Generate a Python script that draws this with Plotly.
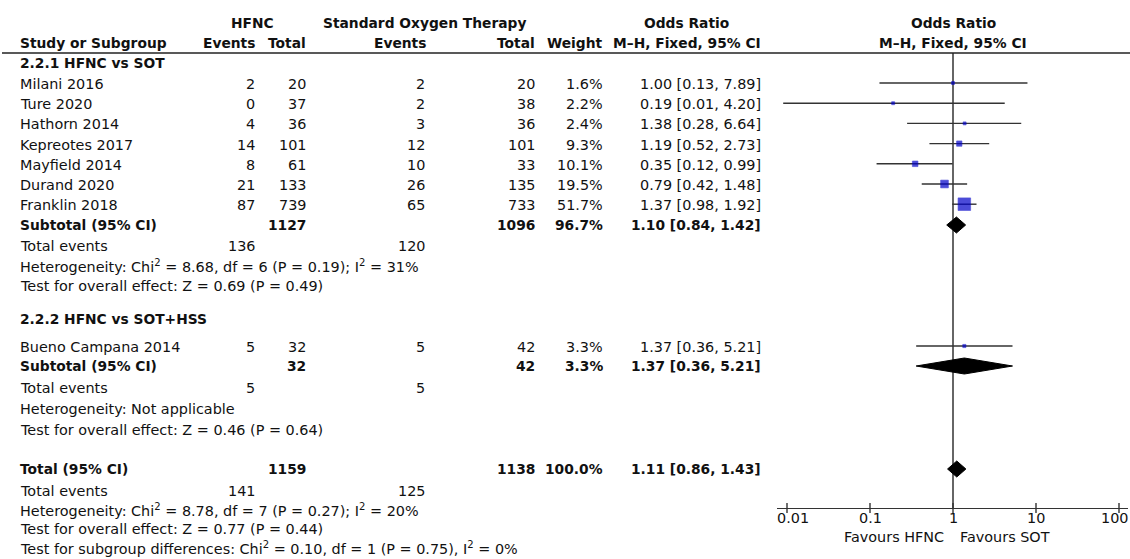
import plotly.graph_objects as go
import math

# ---------------- data ----------------
studies_g1 = ["Milani 2016", "Ture 2020", "Hathorn 2014", "Kepreotes 2017",
              "Mayfield 2014", "Durand 2020", "Franklin 2018"]
hfnc_events_g1 = [2, 0, 4, 14, 8, 21, 87]
hfnc_total_g1 = [20, 37, 36, 101, 61, 133, 739]
sot_events_g1 = [2, 2, 3, 12, 10, 26, 65]
sot_total_g1 = [20, 38, 36, 101, 33, 135, 733]
weight_g1 = [1.6, 2.2, 2.4, 9.3, 10.1, 19.5, 51.7]
or_g1 = [1.00, 0.19, 1.38, 1.19, 0.35, 0.79, 1.37]
lo_g1 = [0.13, 0.009, 0.28, 0.52, 0.12, 0.42, 0.98]
hi_g1 = [7.89, 4.20, 6.64, 2.73, 0.99, 1.48, 1.92]

studies_g2 = ["Bueno Campana 2014"]
hfnc_events_g2 = [5]
hfnc_total_g2 = [32]
sot_events_g2 = [5]
sot_total_g2 = [42]
weight_g2 = [3.3]
or_g2 = [1.37]
lo_g2 = [0.36]
hi_g2 = [5.21]

summary_labels = ["Subtotal (95% CI)", "Subtotal (95% CI)", "Total (95% CI)"]
sum_hfnc_total = [1127, 32, 1159]
sum_sot_total = [1096, 42, 1138]
sum_weight = [96.7, 3.3, 100.0]
sum_or = [1.10, 1.37, 1.11]
sum_lo = [0.84, 0.36, 0.86]
sum_hi = [1.42, 5.21, 1.43]
sum_hfnc_events = [136, 5, 141]
sum_sot_events = [120, 5, 125]

group_titles = ["2.2.1 HFNC vs SOT", "2.2.2 HFNC vs SOT+HSS"]
het_texts = ["Heterogeneity: Chi<sup>2</sup> = 8.68, df = 6 (P = 0.19); I<sup>2</sup> = 31%",
             "Heterogeneity: Not applicable",
             "Heterogeneity: Chi<sup>2</sup> = 8.78, df = 7 (P = 0.27); I<sup>2</sup> = 20%"]
effect_texts = ["Test for overall effect: Z = 0.69 (P = 0.49)",
                "Test for overall effect: Z = 0.46 (P = 0.64)",
                "Test for overall effect: Z = 0.77 (P = 0.44)"]
subgroup_text = "Test for subgroup differences: Chi<sup>2</sup> = 0.10, df = 1 (P = 0.75), I<sup>2</sup> = 0%"

tick_vals = [0.01, 0.1, 1, 10, 100]
tick_text = ["0.01", "0.1", "1", "10", "100"]
favours_left = "Favours HFNC"
favours_right = "Favours SOT"

# ---------------- layout constants (page pixels) ----------------
W, H = 1130, 559
FONT = "DejaVu Sans"
TXT = "#111111"
FS = 14.4
FSB = 13.8
X_LABEL = 18
X_HEV, X_HTOT, X_SEV, X_STOT, X_WT, X_OR = 257, 308, 427, 537, 605, 763
AXIS_Y = 508
RULE_Y = 53
PX_PER_DEC = 83.0
X1_PX = 953.0
AX_L, AX_R = 777, 1128
TICK_LABEL_SHIFT = [6, 0, 0, 0, -5]

rows_g1 = [84 + 20.2 * i for i in range(len(studies_g1))]
rows_g2 = [347]
sum_rows = [225, 366, 469]
title_rows = [63, 319]
events_rows = [246, 388, 491]
het_rows = [266, 409, 510]
effect_rows = [286, 430, 529]
subgroup_row = 548

annotations = []


def txt(x, y, s, anchor="left", bold=False, xref="x", xshift=0):
    annotations.append(dict(
        x=x, y=y, xref=xref, yref="y", text=(f"<b>{s}</b>" if bold else s),
        showarrow=False, xanchor=anchor, yanchor="middle", xshift=xshift,
        font=dict(family=FONT, size=(FSB if bold else FS), color=TXT)))


# headers
txt(252, 23, "HFNC", "center", True)
txt(424, 23, "Standard Oxygen Therapy", "center", True)
txt(686, 23, "Odds Ratio", "center", True)
txt(X1_PX, 23, "Odds Ratio", "center", True)
txt(X_LABEL, 43, "Study or Subgroup", "left", True)
txt(X_HEV, 43, "Events", "right", True)
txt(X_HTOT, 43, "Total", "right", True)
txt(X_SEV + 1, 43, "Events", "right", True)
txt(X_STOT, 43, "Total", "right", True)
txt(X_WT, 43, "Weight", "right", True)
txt(X_OR, 43, "M\u2013H, Fixed, 95% CI", "right", True)
txt(X1_PX, 43, "M\u2013H, Fixed, 95% CI", "center", True)


def study_rows(names, he, ht, se, st, wt, o, lo, hi, ys):
    for i, y in enumerate(ys):
        txt(X_LABEL, y, names[i])
        txt(X_HEV, y, str(he[i]), "right")
        txt(X_HTOT, y, str(ht[i]), "right")
        txt(X_SEV, y, str(se[i]), "right")
        txt(X_STOT, y, str(st[i]), "right")
        txt(X_WT, y, f"{wt[i]:.1f}%", "right")
        txt(X_OR, y, f"{o[i]:.2f} [{lo[i]:.2f}, {hi[i]:.2f}]", "right")


for g in range(2):
    txt(X_LABEL, title_rows[g], group_titles[g], "left", True)
study_rows(studies_g1, hfnc_events_g1, hfnc_total_g1, sot_events_g1, sot_total_g1,
           weight_g1, or_g1, lo_g1, hi_g1, rows_g1)
study_rows(studies_g2, hfnc_events_g2, hfnc_total_g2, sot_events_g2, sot_total_g2,
           weight_g2, or_g2, lo_g2, hi_g2, rows_g2)

for k in range(3):
    y = sum_rows[k]
    txt(X_LABEL, y, summary_labels[k], "left", True)
    txt(X_HTOT, y, str(sum_hfnc_total[k]), "right", True)
    txt(X_STOT, y, str(sum_sot_total[k]), "right", True)
    txt(X_WT, y, f"{sum_weight[k]:.1f}%", "right", True)
    txt(X_OR, y, f"{sum_or[k]:.2f} [{sum_lo[k]:.2f}, {sum_hi[k]:.2f}]", "right", True)
    txt(X_LABEL, events_rows[k], "Total events")
    txt(X_HEV, events_rows[k], str(sum_hfnc_events[k]), "right")
    txt(X_SEV, events_rows[k], str(sum_sot_events[k]), "right")
    txt(X_LABEL, het_rows[k], het_texts[k])
    txt(X_LABEL, effect_rows[k], effect_texts[k])
txt(X_LABEL, subgroup_row, subgroup_text)

txt(946, 537, favours_left, "right")
txt(958, 537, favours_right, "left")

# tick labels on the log axis (annotation x in log10 units)
for t, s, sh in zip(tick_vals, tick_text, TICK_LABEL_SHIFT):
    txt(math.log10(t), 518, s, "center", False, xref="x2", xshift=sh)

# ---------------- forest traces ----------------
fig = go.Figure()
LINE_C = "#333333"

fig.add_trace(go.Scatter(x=[1, 1], y=[RULE_Y, AXIS_Y], mode="lines",
                         line=dict(color=LINE_C, width=1.5),
                         xaxis="x2", yaxis="y", hoverinfo="skip", showlegend=False))

all_or = or_g1 + or_g2
all_lo = lo_g1 + lo_g2
all_hi = hi_g1 + hi_g2
all_wt = weight_g1 + weight_g2
all_y = rows_g1 + rows_g2
ci_offset = -1

cx, cy = [], []
for o, lo, hi, y in zip(all_or, all_lo, all_hi, all_y):
    cx += [lo, hi, None]
    cy += [y + ci_offset, y + ci_offset, None]
fig.add_trace(go.Scatter(x=cx, y=cy, mode="lines", line=dict(color=LINE_C, width=1.4),
                         xaxis="x2", yaxis="y", hoverinfo="skip", showlegend=False))

fig.add_trace(go.Scatter(
    x=all_or, y=[y + ci_offset for y in all_y], mode="markers",
    marker=dict(symbol="square", color="#0000c8",
                size=[max(3.0, 1.75 * math.sqrt(w)) for w in all_wt],
                line=dict(width=0.6, color="#0000c8")),
    xaxis="x2", yaxis="y", hoverinfo="skip", showlegend=False))

HALF_D = 8
for k in range(3):
    y = sum_rows[k]
    fig.add_trace(go.Scatter(
        x=[sum_lo[k], sum_or[k], sum_hi[k], sum_or[k], sum_lo[k]],
        y=[y, y - HALF_D, y, y + HALF_D, y],
        mode="lines", fill="toself", fillcolor="black",
        line=dict(color="black", width=1),
        xaxis="x2", yaxis="y", hoverinfo="skip", showlegend=False))

# ticks crossing the axis line
tx, ty = [], []
for t in tick_vals:
    tx += [t, t, None]
    ty += [AXIS_Y - 5, AXIS_Y + 5, None]
fig.add_trace(go.Scatter(x=tx, y=ty, mode="lines", line=dict(color=LINE_C, width=1.4),
                         xaxis="x2", yaxis="y", hoverinfo="skip", showlegend=False))

lo_range = -(X1_PX - AX_L) / PX_PER_DEC
hi_range = (AX_R - X1_PX) / PX_PER_DEC

shapes = [dict(type="line", xref="x", yref="y", x0=2, x1=W, y0=RULE_Y, y1=RULE_Y,
               line=dict(color="#222222", width=1.3))]

fig.update_layout(
    width=W, height=H, autosize=False,
    margin=dict(l=0, r=0, t=0, b=0, pad=0),
    paper_bgcolor="white", plot_bgcolor="white",
    xaxis=dict(range=[0, W], domain=[0, 1], visible=False, fixedrange=True),
    yaxis=dict(range=[H, 0], domain=[0, 1], visible=False, fixedrange=True),
    xaxis2=dict(type="log", range=[lo_range, hi_range],
                domain=[AX_L / W, AX_R / W],
                anchor="free", position=1 - AXIS_Y / H,
                showline=True, linecolor=LINE_C, linewidth=1.4,
                ticks="", showticklabels=False,
                showgrid=False, zeroline=False, fixedrange=True),
    annotations=annotations, shapes=shapes, showlegend=False,
)

fig.write_html("out.html", config={"displayModeBar": False},
               post_script="document.body.style.margin='0';"
                           "document.body.style.padding='0';"
                           "document.documentElement.style.overflow='hidden';"
                           "document.body.style.overflow='hidden';")
